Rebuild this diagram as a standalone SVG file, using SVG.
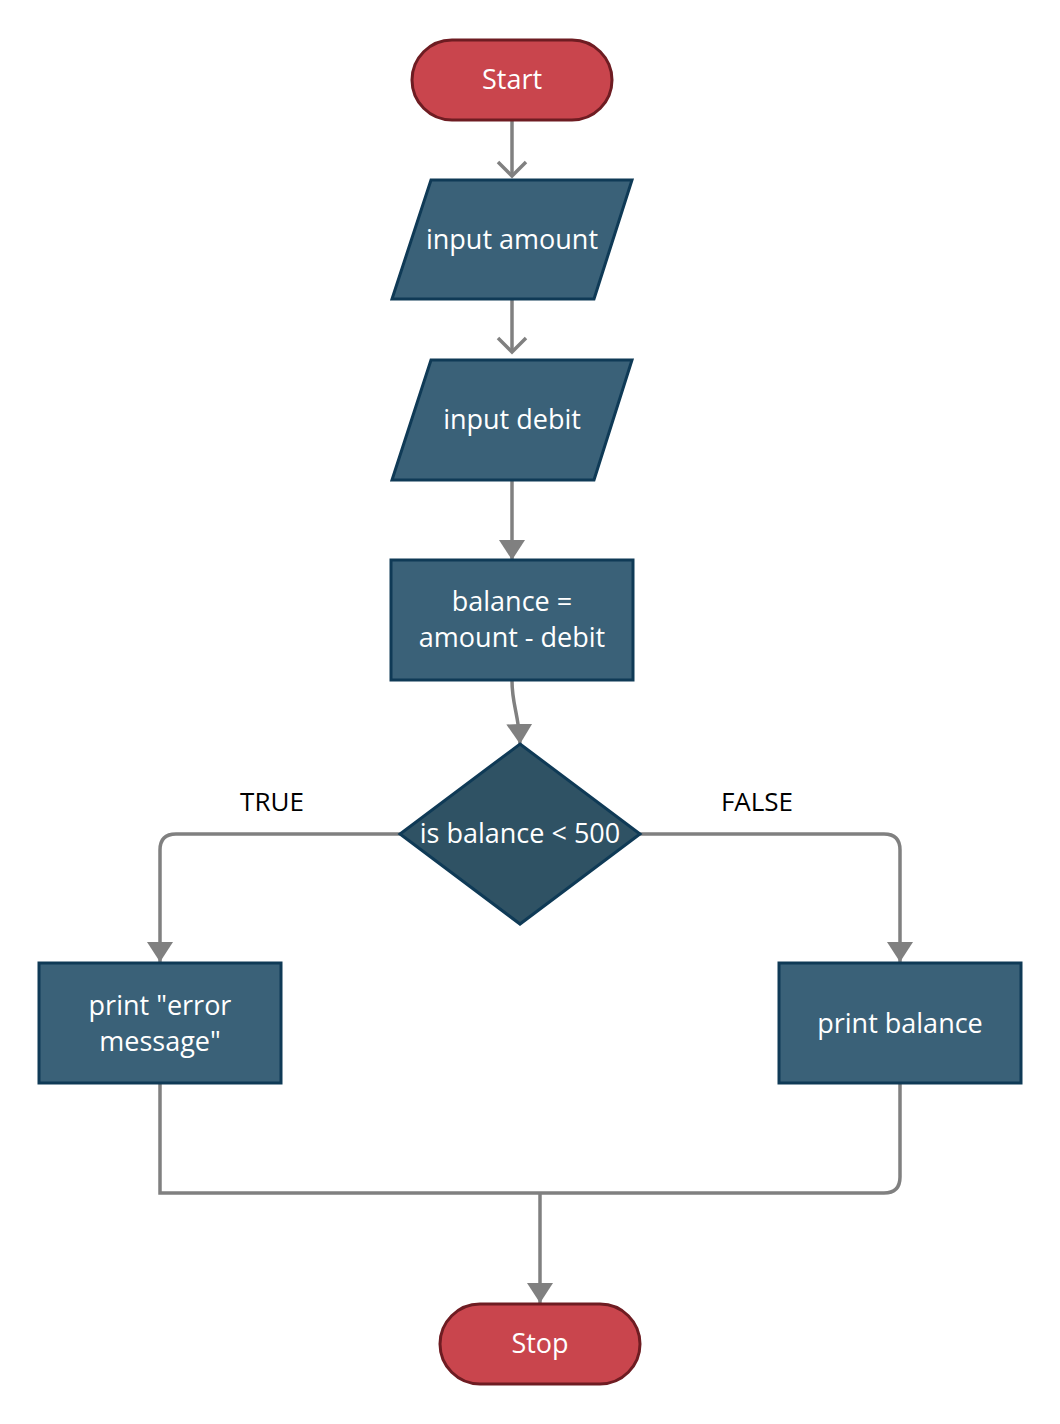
<svg xmlns="http://www.w3.org/2000/svg" width="1060" height="1424" viewBox="0 0 1060 1424">
<style>
.term{fill:#c9454d;stroke:#6e1c22;stroke-width:3}
.proc{fill:#3a6178;stroke:#0f3a56;stroke-width:3}
.dec{fill:#2f5264;stroke:#0f3a56;stroke-width:3}
.t{font-family:"Open Sans","Noto Sans",sans-serif;font-size:27px;fill:#ffffff;text-anchor:middle}
.lbl{font-family:"Open Sans","Noto Sans",sans-serif;font-size:26px;fill:#000000;text-anchor:middle}
.c{fill:none;stroke:#808080;stroke-width:3.5}
</style>
<defs>
<marker id="open" markerUnits="userSpaceOnUse" markerWidth="20" markerHeight="32" refX="17" refY="16" orient="auto" viewBox="0 0 20 32">
<path d="M3,2 L17,16 L3,30" fill="none" stroke="#808080" stroke-width="3.5"/>
</marker>
<marker id="fill" markerUnits="userSpaceOnUse" markerWidth="22" markerHeight="28" refX="20" refY="14" orient="auto" viewBox="0 0 22 28">
<path d="M0,1 L20,14 L0,27 Z" fill="#808080"/>
</marker>
</defs>
<rect width="1060" height="1424" fill="#ffffff"/>
<g id="connectors">
<path class="c" d="M512,121 L512,176" marker-end="url(#open)"/>
<path class="c" d="M512,300 L512,352" marker-end="url(#open)"/>
<path class="c" d="M512,481 L512,560" marker-end="url(#fill)"/>
<path class="c" d="M512,681 C512,705 519,715 520,744" marker-end="url(#fill)"/>
<path class="c" d="M400,834 L176,834 Q160,834 160,850 L160,962" marker-end="url(#fill)"/>
<path class="c" d="M640,834 L884,834 Q900,834 900,850 L900,962" marker-end="url(#fill)"/>
<path class="c" d="M160,1084 L160,1193 L884,1193 Q900,1193 900,1177 L900,1084"/>
<path class="c" d="M540,1193 L540,1303" marker-end="url(#fill)"/>
</g>
<g id="start">
<rect class="term" x="412" y="40" width="200" height="80" rx="40" ry="40"/>
<text class="t" x="512" y="89">Start</text>
</g>
<g id="input-amount">
<polygon class="proc" points="431,180 632,180 594,299 392,299"/>
<text class="t" x="512" y="249">input amount</text>
</g>
<g id="input-debit">
<polygon class="proc" points="431,360 632,360 594,480 392,480"/>
<text class="t" x="512" y="429">input debit</text>
</g>
<g id="balance">
<rect class="proc" x="391" y="560" width="242" height="120"/>
<text class="t" x="512" y="611">balance =</text>
<text class="t" x="512" y="647">amount - debit</text>
</g>
<g id="decision">
<polygon class="dec" points="520,744 640,834 520,924 400,834"/>
<text class="t" x="520" y="843">is balance &lt; 500</text>
</g>
<g id="labels">
<text class="lbl" x="272" y="811">TRUE</text>
<text class="lbl" x="757" y="811">FALSE</text>
</g>
<g id="print-error">
<rect class="proc" x="39" y="963" width="242" height="120"/>
<text class="t" x="160" y="1015">print "error</text>
<text class="t" x="160" y="1051">message"</text>
</g>
<g id="print-balance">
<rect class="proc" x="779" y="963" width="242" height="120"/>
<text class="t" x="900" y="1033">print balance</text>
</g>
<g id="stop">
<rect class="term" x="440" y="1304" width="200" height="80" rx="40" ry="40"/>
<text class="t" x="540" y="1353">Stop</text>
</g>
</svg>
